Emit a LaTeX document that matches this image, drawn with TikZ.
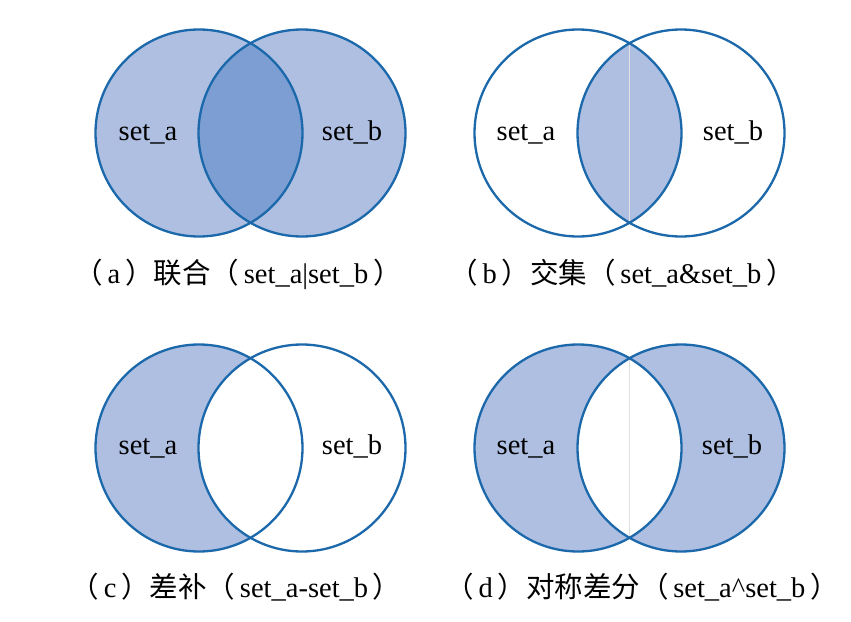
\documentclass[tikz,border=0pt]{standalone}
\usepackage{fontspec}
\setmainfont{Liberation Serif}
\newfontfamily\cjk{Noto Sans CJK SC}
\definecolor{setfill}{HTML}{AEBFE2}
\definecolor{lensfill}{HTML}{7C9ED3}
\definecolor{setline}{HTML}{1B68AA}
\tikzset{
  setcircle/.style={draw=setline, line width=2.3pt},
  setlabel/.style={font=\fontsize{28.5}{30}\selectfont, inner sep=0pt, anchor=base},
  caption/.style={font=\fontsize{28.5}{30}\selectfont, inner sep=0pt, anchor=base},
  seam/.style={draw=black!12, line width=0.6pt}
}
\begin{document}
\begin{tikzpicture}[x=1pt,y=-1pt]
\useasboundingbox (0,0) rectangle (851,621);
\def\R{103.5}
% ---------- (a) union ----------
\coordinate (aA) at (199,133);
\coordinate (aB) at (302,133);
\fill[setfill] (aA) circle (\R);
\fill[setfill] (aB) circle (\R);
\begin{scope}
  \clip (aA) circle (\R);
  \fill[lensfill] (aB) circle (\R);
\end{scope}
\draw[setcircle] (aA) circle (\R);
\draw[setcircle] (aB) circle (\R);
\node[setlabel] (aLa) at (148,140) {set\_a};
\node[setlabel] (aLb) at (352,140) {set\_b};
\node[caption] (capa) at (238,283) {{\cjk （}\,a\,{\cjk ）联合（}\,set\_a|set\_b\,{\cjk ）}};
% ---------- (b) intersection ----------
\coordinate (bA) at (578,133);
\coordinate (bB) at (681,133);
\begin{scope}
  \clip (bA) circle (\R);
  \fill[setfill] (bB) circle (\R);
\end{scope}
\coordinate (bT) at (629.5,43.5);
\coordinate (bD) at (629.5,222.5);
\draw[seam] (bT) -- (bD);
\draw[setcircle] (bA) circle (\R);
\draw[setcircle] (bB) circle (\R);
\node[setlabel] (bLa) at (526,140) {set\_a};
\node[setlabel] (bLb) at (733,140) {set\_b};
\node[caption] (capb) at (622,283) {{\cjk （}\,b\,{\cjk ）交集（}\,set\_a\&set\_b\,{\cjk ）}};
% ---------- (c) difference ----------
\coordinate (cA) at (199,448);
\coordinate (cB) at (302,448);
\fill[setfill] (cA) circle (\R);
\begin{scope}
  \clip (cA) circle (\R);
  \fill[white] (cB) circle (\R);
\end{scope}
\draw[setcircle] (cA) circle (\R);
\draw[setcircle] (cB) circle (\R);
\node[setlabel] (cLa) at (148,454) {set\_a};
\node[setlabel] (cLb) at (352,454) {set\_b};
\node[caption] (capc) at (236,597) {{\cjk （}\,c\,{\cjk ）差补（}\,set\_a-set\_b\,{\cjk ）}};
% ---------- (d) symmetric difference ----------
\coordinate (dA) at (578,448);
\coordinate (dB) at (681,448);
\fill[setfill] (dA) circle (\R);
\fill[setfill] (dB) circle (\R);
\begin{scope}
  \clip (dA) circle (\R);
  \fill[white] (dB) circle (\R);
\end{scope}
\coordinate (dT) at (629.5,358.5);
\coordinate (dD) at (629.5,537.5);
\draw[seam] (dT) -- (dD);
\draw[setcircle] (dA) circle (\R);
\draw[setcircle] (dB) circle (\R);
\node[setlabel] (dLa) at (526,454) {set\_a};
\node[setlabel] (dLb) at (732,454) {set\_b};
\node[caption] (capd) at (642,597) {{\cjk （}\,d\,{\cjk ）对称差分（}\,set\_a\textasciicircum set\_b\,{\cjk ）}};
\end{tikzpicture}
\end{document}
